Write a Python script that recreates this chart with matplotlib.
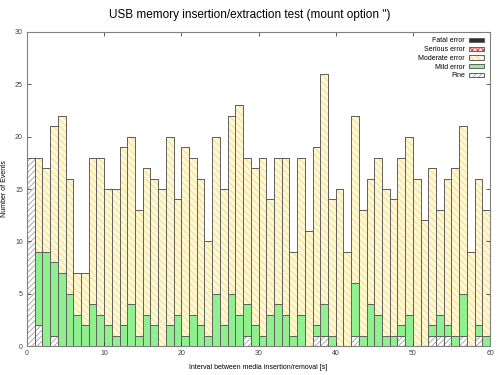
import matplotlib

matplotlib.use("Agg")
import matplotlib.pyplot as plt
import numpy as np

plt.rcParams["font.family"] = ["Liberation Sans", "DejaVu Sans"]
plt.rcParams["hatch.linewidth"] = 0.6

# interval bins 0..59 s, counts per category (stacked bottom -> top)
intervals = np.arange(60)
fine = [18, 2, 0, 1, 0, 0, 0, 0, 0, 0,
        0, 0, 0, 0, 0, 0, 0, 0, 0, 0,
        0, 0, 0, 0, 0, 0, 0, 0, 1, 0,
        0, 0, 0, 0, 0, 0, 0, 1, 1, 0,
        0, 0, 1, 0, 0, 0, 0, 0, 1, 0,
        0, 0, 1, 1, 1, 0, 1, 0, 1, 0]
mild = [0, 7, 9, 7, 7, 5, 3, 2, 4, 3,
        2, 1, 2, 4, 1, 3, 2, 0, 2, 3,
        1, 3, 2, 1, 5, 2, 5, 3, 3, 2,
        1, 3, 4, 3, 1, 3, 0, 1, 3, 1,
        0, 0, 5, 1, 4, 3, 1, 1, 1, 3,
        0, 0, 1, 2, 1, 1, 4, 0, 1, 1]
moderate = [0, 9, 8, 13, 15, 11, 4, 5, 14, 15,
            13, 14, 17, 16, 12, 14, 14, 15, 18, 11,
            18, 15, 14, 9, 15, 13, 17, 20, 14, 15,
            17, 11, 14, 15, 8, 15, 11, 17, 22, 13,
            15, 9, 16, 12, 12, 15, 14, 13, 16, 17,
            16, 12, 15, 10, 14, 16, 16, 9, 14, 12]
serious = [0] * 60
fatal = [0] * 60

categories = ["Fine", "Mild error", "Moderate error", "Serious error", "Fatal error"]
series = [fine, mild, moderate, serious, fatal]
styles = [
    dict(facecolor="white", hatch="//////", hatch_color="#a0a0a0"),
    dict(facecolor="#90f090", hatch=None, hatch_color=None),
    dict(facecolor="#fff8d2", hatch="\\\\\\\\\\", hatch_color="#f0d890"),
    dict(facecolor="#ffe0e0", hatch="xxxxxx", hatch_color="#e04040"),
    dict(facecolor="#303030", hatch=None, hatch_color=None),
]

fig = plt.figure(figsize=(5, 3.75), dpi=100)
ax = fig.add_axes([0.054, 0.077, 0.926, 0.838])

bottom = np.zeros(60)
handles = []
for name, vals, st in zip(categories, series, styles):
    vals = np.array(vals, dtype=float)
    bars = ax.bar(intervals, vals, width=1.0, align="edge", bottom=bottom,
                  facecolor=st["facecolor"], edgecolor="#606060",
                  linewidth=0.7, label=name)
    if st["hatch"]:
        for b in bars:
            b.set_hatch(st["hatch"])
            b._hatch_color = matplotlib.colors.to_rgba(st["hatch_color"])
    handles.append(bars)
    bottom += vals

ax.set_xlim(0, 60)
ax.set_ylim(0, 30)
ax.set_xticks(range(0, 61, 10))
ax.set_yticks(range(0, 31, 5))
ax.tick_params(direction="in", length=3, width=0.6, labelsize=5,
               top=True, right=True, colors="#404040", pad=3)
for s in ax.spines.values():
    s.set_color("#808080")
    s.set_linewidth(0.8)

ax.set_xlabel("Interval between media insertion/removal [s]", fontsize=5,
              labelpad=5)
ax.set_ylabel("Number of Events", fontsize=5)
ax.yaxis.set_label_coords(-0.04, 0.5)
fig.suptitle("USB memory insertion/extraction test (mount option '')",
             fontsize=8.5, y=0.975)

leg = ax.legend(handles[::-1], categories[::-1], loc="upper right",
                frameon=False, fontsize=5, markerfirst=False,
                handlelength=2.2, handleheight=0.6, labelspacing=0.25,
                handletextpad=0.6, borderaxespad=0.4)

fig.savefig("out.png", dpi=100)
